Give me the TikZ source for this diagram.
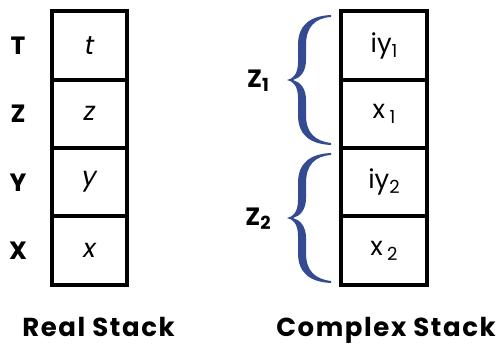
\documentclass[tikz,border=0pt]{standalone}
\usepackage{fontspec}
\setmainfont{Poppins}
\newfontfamily\spaced[LetterSpace=6]{Poppins}
\definecolor{braceblue}{RGB}{52,74,145}
\tikzset{
  cell/.style={draw=black, line width=3.8pt, minimum width=#1, minimum height=68.5pt, inner sep=0pt, font=\fontsize{26}{26}\selectfont},
  lab/.style={font=\fontsize{25}{25}\selectfont\bfseries, inner sep=0pt},
  title/.style={font=\fontsize{26}{26}\selectfont\spaced\bfseries, inner sep=0pt, anchor=base},
}
\newcommand{\sbs}[1]{\raisebox{-0.35ex}{\fontsize{18}{18}\selectfont #1}}
\begin{document}
\begin{tikzpicture}[x=1pt,y=-1pt]
\useasboundingbox (0,0) rectangle (502,344);
% real stack
\node[cell=75.5pt] (t) at (89.5,45.5) {\itshape t};
\node[cell=75.5pt] (z) at (89.5,113.8) {\itshape z};
\node[cell=75.5pt] (y) at (89.5,182.2) {\itshape y};
\node[cell=75.5pt] (x) at (89.5,250.5) {\itshape x};
\node[lab] (lT) at (18,45.5) {T};
\node[lab] (lZ) at (18,114) {Z};
\node[lab] (lY) at (18,183) {Y};
\node[lab] (lX) at (18,251) {X};
% complex stack
\node[cell=85.5pt] (iy1) at (384,45.5) {iy\sbs{1}};
\node[cell=85.5pt] (x1) at (384,113.8) {x\,\sbs{1}};
\node[cell=85.5pt] (iy2) at (384,182.2) {iy\sbs{2}};
\node[cell=85.5pt] (x2) at (384,250.5) {x\,\sbs{2}};
\node[lab] (Z1) at (258,81) {Z\raisebox{-0.3ex}{\fontsize{18}{18}\selectfont\bfseries 1}};
\node[lab] (Z2) at (258,219) {Z\raisebox{-0.3ex}{\fontsize{18}{18}\selectfont\bfseries 2}};
% braces
\foreach \o in {0,138}{
\fill[braceblue, shift={(0,\o)}] (331,15) .. controls (310,16) and (298,25) .. (298,45)
  -- (298,62) .. controls (298,74) and (293,79) .. (287,80)
  .. controls (293,81) and (298,86) .. (298,98)
  -- (298,115) .. controls (298,135) and (310,144) .. (331,145)
  -- (331,143) .. controls (315,141) and (306,133) .. (306,115)
  -- (306,100) .. controls (306,88) and (300,82) .. (293,80)
  .. controls (300,78) and (306,72) .. (306,60)
  -- (306,45) .. controls (306,27) and (315,18) .. (331,17) -- cycle;
}
% titles
\node[title] (rs) at (98.5,336) {Real Stack};
\node[title] (cs) at (386,336) {Complex Stack};
\end{tikzpicture}
\end{document}
